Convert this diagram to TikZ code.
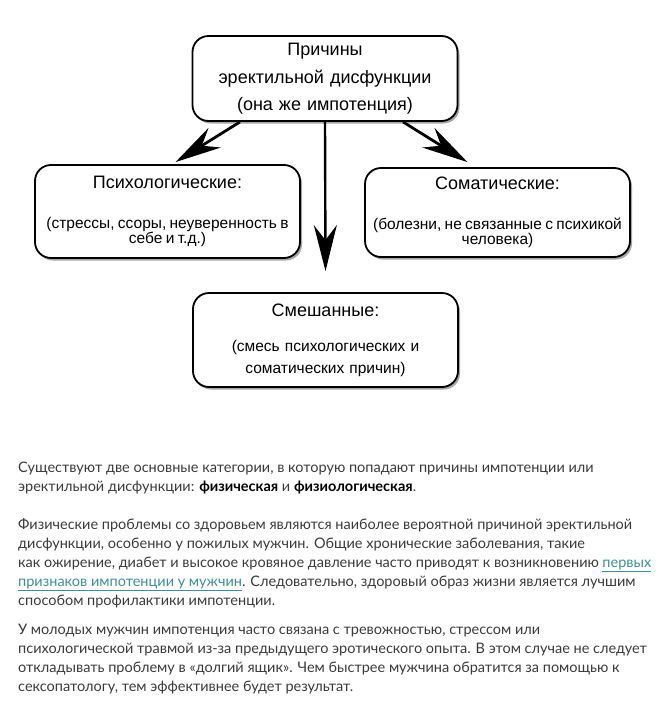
\documentclass[tikz,border=0pt]{standalone}
\usepackage{fontspec}
\setmainfont{Lato}
\newfontfamily\boxfont{Liberation Sans}
\usepackage{xcolor}
\usetikzlibrary{arrows.meta, positioning, shadows}
\definecolor{paratext}{HTML}{3A3A3A}
\definecolor{linkteal}{HTML}{3E8E97}
\newcommand{\weblink}[1]{\textcolor{linkteal}{\underline{#1}}}
\newcommand{\boxtitle}{\fontsize{18}{22}\selectfont}
\newcommand{\boxnote}{\fontsize{15.5}{19}\selectfont}

\begin{document}
\begin{tikzpicture}[
    x=1pt, y=-1pt,
    cause/.style={draw, line width=1.8pt, rounded corners=16pt, fill=white,
      text width=250pt, align=center, font=\boxfont, inner sep=2pt,
      minimum width=265pt,
      drop shadow={shadow xshift=2pt, shadow yshift=-2.5pt, fill=black!70}},
    arrow/.style={-{Stealth[length=46pt, width=23pt, inset=15pt]}, line width=2.8pt},
    para/.style={anchor=north west, inner sep=0pt, align=left, text=paratext,
      font=\fontsize{14.5}{19}\selectfont}
    ]
    \useasboundingbox (0,0) rectangle (659,707);

    % Nodes
    \node[cause, minimum height=85pt, font=\boxfont\fontsize{18}{27}\selectfont] (causes) at (325,78.5)
      {Причины\\[1pt]эректильной дисфункции\\(она же импотенция)};
    \node[cause, minimum height=93pt] (psych) at (167.5,211.5)
      {\boxtitle Психологические:\\[21pt]\boxnote (стрессы, ссоры, неуверенность в\\себе и т.д.)};
    \node[cause, minimum height=89pt] (somatic) at (497.5,212.5)
      {\boxtitle Соматические:\\[21pt]\boxnote (болезни, не связанные с психикой\\человека)};
    \node[cause, minimum height=94pt, font=\boxfont\fontsize{15.5}{22}\selectfont] (mixed) at (325.5,340)
      {\boxtitle Смешанные:\\[13pt]\fontsize{15.5}{22}\selectfont (смесь психологических и\\соматических причин)};

    \node[para] (intro) at (18,462)
      {Существуют две основные категории, в которую попадают причины импотенции или\\
       эректильной дисфункции: \textbf{\color{black}физическая} и \textbf{\color{black}физиологическая}.};
    \node[para] (physical) at (18,518)
      {Физические проблемы со здоровьем являются наиболее вероятной причиной эректильной\\
       дисфункции, особенно у пожилых мужчин. Общие хронические заболевания, такие\\
       как ожирение, диабет и высокое кровяное давление часто приводят к возникновению \weblink{первых}\\
       \weblink{признаков импотенции у мужчин}. Следовательно, здоровый образ жизни является лучшим\\
       способом профилактики импотенции.};
    \node[para] (young) at (18,624)
      {У молодых мужчин импотенция часто связана с тревожностью, стрессом или\\
       психологической травмой из-за предыдущего эротического опыта. В этом случае не следует\\
       откладывать проблему в «долгий ящик». Чем быстрее мужчина обратится за помощью к\\
       сексопатологу, тем эффективнее будет результат.};

    % Arrows
    \draw[arrow] ([xshift=-85pt]causes.south) -- ([xshift=8pt, yshift=2pt]psych.north);
    \draw[arrow] ([xshift=78pt]causes.south) -- ([xshift=-30pt, yshift=5pt]somatic.north);
    \draw[arrow, line width=2.4pt] (causes.south) -- ([yshift=21pt]mixed.north);
\end{tikzpicture}
\end{document}
